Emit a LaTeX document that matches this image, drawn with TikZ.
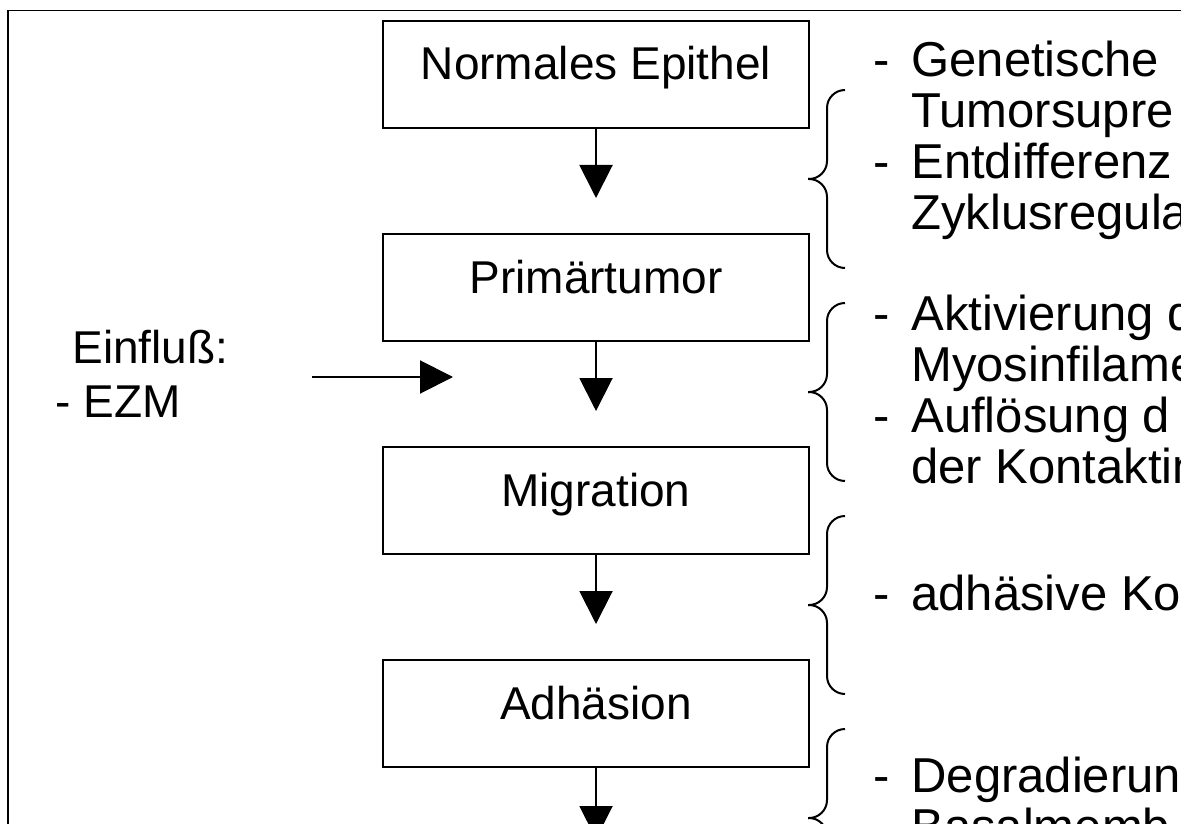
\documentclass[tikz,border=0pt]{standalone}
\usepackage{fontspec}
\setmainfont{Liberation Sans}
\usetikzlibrary{positioning, arrows.meta}

\begin{document}
\begin{tikzpicture}[x=0.5pt, y=-0.5pt, node distance=106.5pt, on grid,
    font=\fontsize{23pt}{25.5pt}\selectfont,
    box/.style={draw, line width=1pt, minimum width=213pt, inner xsep=0pt, inner ysep=0pt,
      text height=29.5pt, text depth=24pt},
    pfeil/.style={line width=1pt, -{Triangle[length=16.5pt, width=16.5pt]}},
    klammer/.style={line width=1pt, rounded corners=9pt},
    liste/.style={anchor=base west, inner sep=0pt, font=\fontsize{24.5pt}{25.5pt}\selectfont}]
  \useasboundingbox (0,0) rectangle (1181,823);
  \clip (0,0) rectangle (1181,823);
  % Rahmen
  \draw[line width=0.8pt] (8,10.5) rectangle (1200,850);

  \node[box] (epi) at (596,74.5) {Normales Epithel};
  \node[box] (prim) [below=of epi] {Primärtumor};
  \node[box] (migr) [below=of prim] {Migration};
  \node[box] (adh) [below=of migr] {Adhäsion};
  \coordinate (ende) at ([yshift=-35.5pt]adh.south);

  \path[pfeil, shorten >=17.5pt]
    (epi) edge (prim)
    (prim) edge (migr)
    (migr) edge (adh);
  \draw[pfeil] (adh) -- (ende);

  % Einfluss von links
  \node[anchor=base west, inner sep=0pt] (einfl) at (72,363) {Einfluß:};
  \node[anchor=base west, inner sep=0pt] (ezm) at (55,417) {- EZM};
  \coordinate (ezmstart) at (312,377);
  \coordinate (ezmziel) at (453,377);
  \draw[pfeil] (ezmstart) -- (ezmziel);

  % Klammern
  \foreach \k in {0,...,3} {
    \pgfmathsetmacro{\oben}{90+213*\k}
    \pgfmathsetmacro{\spitze}{179+213*\k}
    \pgfmathsetmacro{\unten}{268+213*\k}
    \draw[klammer] (845,\oben) -- (827,\oben) -- (827,\spitze) -- (808,\spitze);
    \draw[klammer] (808,\spitze) -- (827,\spitze) -- (827,\unten) -- (845,\unten);
  }

  \node[liste] (text1) at (873,77) {\begin{tabular}[t]{@{}p{19pt}@{}l@{}}
    - & Genetische\\ & Tumorsupre\\ - & Entdifferenz\\ & Zyklusregula\end{tabular}};
  \node[liste] (text2) at (873,330) {\begin{tabular}[t]{@{}p{19pt}@{}l@{}}
    - & Aktivierung d\\ & Myosinfilame\\ - & Auflösung d\\ & der Kontaktin\end{tabular}};
  \node[liste] (text3) at (873,610) {\begin{tabular}[t]{@{}p{19pt}@{}l@{}}
    - & adhäsive Ko\end{tabular}};
  \node[liste] (text4) at (873,792) {\begin{tabular}[t]{@{}p{19pt}@{}l@{}}
    - & Degradierun\\ & Basalmemb\end{tabular}};
\end{tikzpicture}
\end{document}
